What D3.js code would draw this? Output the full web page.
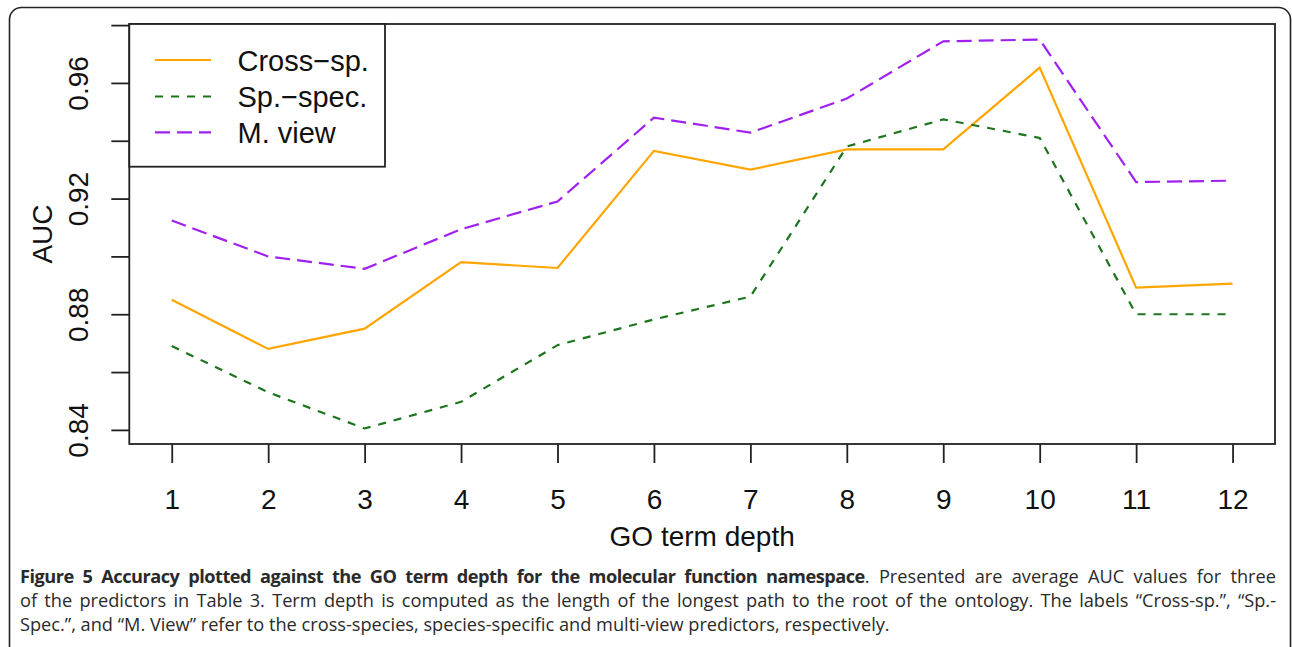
<!DOCTYPE html>
<html>
<head>
<meta charset="utf-8">
<script src="https://d3js.org/d3.v7.min.js"></script>
<style>
  html, body { margin: 0; padding: 0; background: #fff; }
  svg { display: block; }
</style>
</head>
<body>
<svg id="chart" width="1292" height="647"></svg>
<script>
// ---- data ----
const depths = [1, 2, 3, 4, 5, 6, 7, 8, 9, 10, 11, 12];
const crossSp = [0.885, 0.868, 0.875, 0.898, 0.896, 0.9365, 0.930, 0.937, 0.937, 0.9653, 0.8892, 0.8906];
const spSpec  = [0.869, 0.853, 0.8405, 0.8497, 0.8693, 0.8782, 0.8861, 0.938, 0.9474, 0.941, 0.880, 0.880];
const mView   = [0.9124, 0.900, 0.8957, 0.9094, 0.919, 0.948, 0.9428, 0.9546, 0.9744, 0.975, 0.9257, 0.9262];
const yTicks = [0.84, 0.86, 0.88, 0.90, 0.92, 0.94, 0.96, 0.98];
const yTickLabels = ["0.84", "", "0.88", "", "0.92", "", "0.96", ""];
const seriesNames = ["Cross\u2212sp.", "Sp.\u2212spec.", "M. view"];
const xTitle = "GO term depth";
const yTitle = "AUC";
const captionBold = "Figure 5 Accuracy plotted against the GO term depth for the molecular function namespace";
const captionLines = [
  ". Presented are average AUC values for three",
  "of the predictors in Table 3. Term depth is computed as the length of the longest path to the root of the ontology. The labels \u201cCross-sp.\u201d, \u201cSp.-",
  "Spec.\u201d, and \u201cM. View\u201d refer to the cross-species, species-specific and multi-view predictors, respectively."
];

// ---- layout ----
const svg = d3.select("#chart");
const L = 129.3, R = 1275, T = 24, B = 444;
const font = "'Liberation Sans', Arial, Helvetica, sans-serif";
const fs = 28;

// outer rounded frame
svg.append("rect").attr("x", 9.5).attr("y", 7.5).attr("width", 1281).attr("height", 660)
  .attr("rx", 12).attr("ry", 12).attr("fill", "none").attr("stroke", "#222").attr("stroke-width", 1.6);

// R-style 4% axis extension
function rExt(lo, hi) { const d = (hi - lo) * 0.04; return [lo - d, hi + d]; }
const xDom = rExt(d3.min(depths), d3.max(depths));
const allY = crossSp.concat(spSpec, mView);
const yDom = rExt(d3.min(allY), d3.max(allY));

const x = d3.scaleLinear().domain(xDom).range([L, R]);
const y = d3.scaleLinear().domain(yDom).range([B, T]);

// plot box
svg.append("rect").attr("x", L).attr("y", T).attr("width", R - L).attr("height", B - T)
  .attr("fill", "none").attr("stroke", "#222").attr("stroke-width", 1.8);

// x axis
const xAxis = d3.axisBottom(x).tickValues(depths).tickSize(19).tickPadding(0).tickFormat(() => "");
const gx = svg.append("g").attr("transform", `translate(0,${B})`).call(xAxis);
gx.select(".domain").remove();
gx.selectAll(".tick line").attr("stroke", "#222").attr("stroke-width", 1.8);
gx.selectAll(".tick").append("text")
  .attr("y", 509 - B).attr("fill", "#111").attr("text-anchor", "middle")
  .style("font-family", font).style("font-size", fs + "px").text(d => d);

// y axis
const yAxis = d3.axisLeft(y).tickValues(yTicks).tickSize(18).tickFormat(() => "");
const gy = svg.append("g").attr("transform", `translate(${L},0)`).call(yAxis);
gy.select(".domain").remove();
gy.selectAll(".tick line").attr("stroke", "#222").attr("stroke-width", 1.8);
gy.selectAll(".tick").append("text")
  .attr("transform", `translate(${88 - L},0) rotate(-90)`)
  .attr("fill", "#111").attr("text-anchor", "middle")
  .style("font-family", font).style("font-size", fs + "px")
  .text((d, i) => yTickLabels[i]);

// axis titles
svg.append("text").attr("x", (L + R) / 2).attr("y", 546).attr("text-anchor", "middle")
  .attr("fill", "#111").style("font-family", font).style("font-size", fs + "px").text(xTitle);
svg.append("text").attr("transform", `translate(52,${(T + B) / 2}) rotate(-90)`).attr("text-anchor", "middle")
  .attr("fill", "#111").style("font-family", font).style("font-size", fs + "px").text(yTitle);

// lines
const styles = [
  { data: crossSp, color: "#FFA500", dash: null },
  { data: spSpec, color: "#1c751c", dash: "8,8" },
  { data: mView, color: "#A020F0", dash: "15,7" }
];
const line = d3.line().x((d, i) => x(depths[i])).y(d => y(d));
styles.forEach(s => {
  svg.append("path").datum(s.data).attr("d", line)
    .attr("fill", "none").attr("stroke", s.color).attr("stroke-width", 2.2)
    .attr("stroke-dasharray", s.dash);
});

// legend
const lg = svg.append("g");
lg.append("rect").attr("x", L).attr("y", T).attr("width", 385 - L).attr("height", 166.7 - T)
  .attr("fill", "#fff").attr("stroke", "#222").attr("stroke-width", 1.8);
const rows = [60, 96.5, 132.3];
styles.forEach((s, i) => {
  lg.append("line").attr("x1", 155).attr("x2", 211).attr("y1", rows[i]).attr("y2", rows[i])
    .attr("stroke", s.color).attr("stroke-width", 2.2).attr("stroke-dasharray", s.dash);
  lg.append("text").attr("x", 237.5).attr("y", rows[i] + 10.5).attr("fill", "#111")
    .style("font-family", font).style("font-size", "29px").text(seriesNames[i]);
});

// caption (justified lines 1-2 via word-spacing)
const capFont = "'Open Sans', 'Noto Sans', sans-serif";
const capX = 20, capW = 1256, capSize = 18.2;
const cap = svg.append("g").style("font-family", capFont).style("font-size", capSize + "px").attr("fill", "#2a2a2a");
function justify(textSel, nSpaces) {
  const len = textSel.node().getComputedTextLength();
  if (len < capW) textSel.attr("word-spacing", (capW - len) / nSpaces);
}
const t1 = cap.append("text").attr("x", capX).attr("y", 583);
t1.append("tspan").style("font-weight", "bold").attr("letter-spacing", -0.5).text(captionBold);
t1.append("tspan").text(captionLines[0]);
justify(t1, (captionBold + captionLines[0]).split(" ").length - 1);
const t2 = cap.append("text").attr("x", capX).attr("y", 607).text(captionLines[1]);
justify(t2, captionLines[1].split(" ").length - 1);
cap.append("text").attr("x", capX).attr("y", 631).text(captionLines[2]);
</script>
</body>
</html>
